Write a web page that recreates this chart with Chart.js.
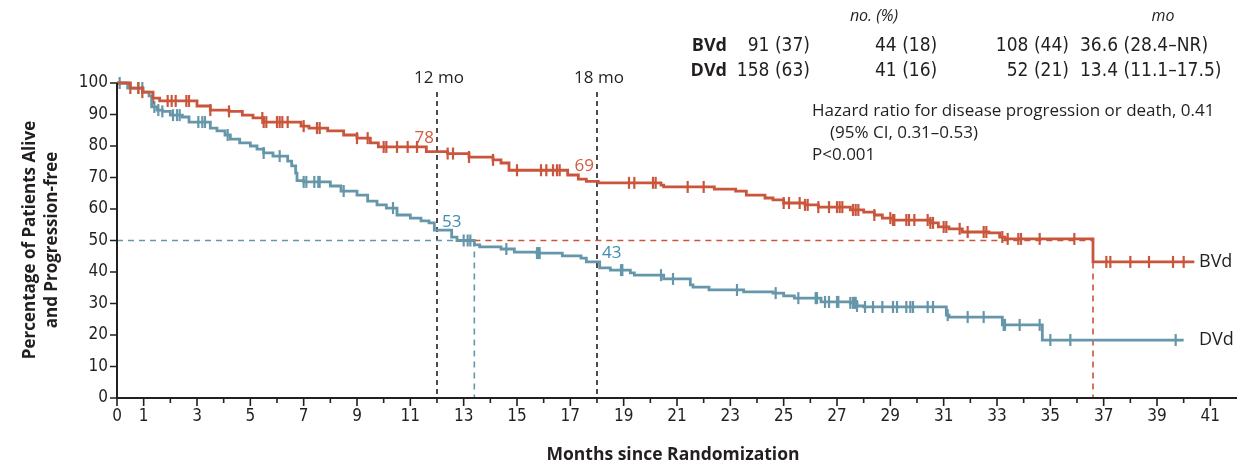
<!DOCTYPE html>
<html>
<head>
<meta charset="utf-8">
<script src="https://cdn.jsdelivr.net/npm/chart.js@4.4.1/dist/chart.umd.min.js"></script>
<style>
    html, body { margin: 0; padding: 0; background: #fff; }
    #wrap { position: relative; width: 1260px; height: 465px; }
</style>
</head>
<body>
<div id="wrap"><canvas id="km" width="1260" height="465"></canvas></div>
<script>
// Kaplan-Meier steps: month where the curve drops, and the new % level
const bvdTimes = [0, 0.5, 0.95, 1.35, 1.6, 3.0, 3.5, 4.2, 4.7, 5.1, 5.5, 6.9, 7.2, 7.9, 8.5, 9.0, 9.5, 9.8, 11.6, 12.4, 13.2, 14.1, 14.4, 14.7, 16.9, 17.3, 17.6, 18.05, 20.4, 20.5, 22.4, 23.2, 23.6, 24.3, 24.6, 25.0, 25.8, 26.3, 27.5, 28.0, 28.4, 28.7, 29.1, 30.5, 30.8, 31.2, 31.7, 32.7, 33.1, 33.3, 36.6, 40.4];
const bvdSurv = [100, 98.4, 97.1, 95.2, 94.3, 92.7, 91.4, 91.0, 89.8, 88.9, 87.6, 86.3, 85.7, 84.8, 83.5, 82.5, 81.0, 79.7, 78.2, 77.6, 76.5, 75.6, 74.6, 72.3, 70.8, 69.5, 68.8, 68.3, 67.6, 67.0, 66.3, 65.7, 64.4, 63.5, 62.9, 61.9, 61.3, 60.6, 59.7, 59.0, 58.1, 57.1, 56.5, 55.6, 54.3, 53.7, 52.7, 52.4, 51.1, 50.5, 43.2, 43.2];
const bvdCensored = [0.5, 0.8, 0.95, 1.35, 1.9, 2.05, 2.2, 2.6, 2.7, 3.5, 4.2, 5.45, 5.5, 5.6, 6.0, 6.1, 6.2, 6.4, 7.0, 7.5, 7.6, 9.0, 9.4, 10.0, 10.1, 10.5, 10.9, 11.25, 12.4, 12.6, 13.2, 14.1, 15.0, 15.9, 16.1, 16.35, 16.5, 16.6, 19.2, 19.4, 20.1, 20.2, 21.4, 22.0, 25.0, 25.2, 25.6, 25.8, 25.9, 26.3, 26.7, 27.0, 27.1, 27.2, 27.6, 27.7, 27.8, 28.4, 29.0, 29.1, 29.15, 29.6, 29.7, 29.9, 30.4, 30.5, 30.6, 31.0, 31.1, 31.6, 31.9, 32.5, 32.6, 33.2, 33.4, 33.8, 33.9, 34.6, 35.9, 37.1, 37.25, 38.0, 38.7, 39.6, 40.0];

const dvdTimes = [0, 0.4, 0.98, 1.2, 1.3, 1.5, 1.7, 2.0, 2.45, 2.7, 3.5, 3.75, 4.05, 4.25, 4.6, 5.0, 5.25, 5.5, 5.85, 6.4, 6.55, 6.7, 6.75, 7.0, 8.0, 8.4, 9.0, 9.4, 9.75, 10.1, 10.5, 11.0, 11.4, 11.7, 11.9, 12.55, 12.75, 13.4, 13.6, 14.4, 14.9, 15.75, 16.7, 17.4, 17.6, 18.1, 18.5, 19.25, 19.4, 20.5, 21.5, 21.6, 22.2, 23.5, 24.6, 25.0, 25.4, 26.4, 27.5, 27.75, 28.0, 31.1, 31.2, 33.2, 34.7, 40.0];
const dvdSurv = [100, 98.4, 97.1, 95.9, 92.4, 91.4, 91.0, 89.8, 89.2, 87.6, 85.7, 84.8, 83.5, 82.2, 81.0, 80.0, 79.0, 77.8, 76.8, 75.2, 73.7, 71.4, 69.0, 68.6, 67.3, 65.7, 64.4, 62.5, 61.3, 60.3, 58.1, 57.1, 56.2, 55.6, 53.3, 51.1, 50.0, 48.6, 48.0, 47.3, 46.3, 46.0, 45.1, 44.4, 43.2, 41.3, 40.6, 39.7, 39.0, 37.8, 35.9, 35.2, 34.3, 33.7, 33.3, 32.4, 31.7, 30.5, 30.2, 29.2, 28.9, 26.3, 25.7, 23.2, 18.4, 18.4];
const dvdCensored = [0.1, 0.8, 0.95, 1.4, 1.55, 1.7, 2.1, 2.25, 2.35, 3.05, 3.2, 3.3, 4.15, 5.5, 6.1, 7.0, 7.1, 7.4, 7.55, 7.6, 8.5, 10.35, 13.0, 13.15, 13.25, 14.6, 15.75, 15.8, 15.85, 18.9, 18.95, 20.4, 20.85, 23.25, 24.7, 25.55, 26.2, 26.25, 26.55, 26.7, 27.0, 27.05, 27.5, 27.6, 27.65, 27.7, 27.75, 28.05, 28.35, 28.7, 29.1, 29.25, 29.6, 29.75, 29.85, 30.4, 30.6, 31.15, 31.9, 32.5, 33.25, 33.3, 33.85, 34.6, 35.0, 35.75, 39.7];

const xTickLabels = [0, 1, 3, 5, 7, 9, 11, 13, 15, 17, 19, 21, 23, 25, 27, 29, 31, 33, 35, 37, 39, 41];
const yTickLabels = [0, 10, 20, 30, 40, 50, 60, 70, 80, 90, 100];

const landmarks = [12, 18];
const bvdLandmarkPct = [78, 69];
const dvdLandmarkPct = [53, 43];
const medians = { DVd: 13.4, BVd: 36.6 };

const tableHead = ['no. (%)', 'mo'];
const tableRows = [
    ['BVd', '91 (37)', '44 (18)', '108 (44)', '36.6 (28.4\u2013NR)'],
    ['DVd', '158 (63)', '41 (16)', '52 (21)', '13.4 (11.1\u201317.5)'],
];
const hazardLines = ['Hazard ratio for disease progression or death, 0.41', '(95% CI, 0.31\u20130.53)', 'P<0.001'];

const RED = '#c9553b';
const BLUE = '#6596a9';
const RED_TEXT = '#d45a40';
const BLUE_TEXT = '#3f8db0';
const INK = '#231f20';
const SANS = "'Open Sans', 'DejaVu Sans', sans-serif";
const NARROW = "'Liberation Sans Narrow', 'DejaVu Sans Condensed', sans-serif";

function steps(times, surv) {
    return times.map((t, i) => ({ x: t, y: surv[i] }));
}

function survAt(times, surv, t) {
    let s = surv[0];
    times.forEach((ti, i) => { if (ti <= t) s = surv[i]; });
    return s;
}

function marks(times, surv, censored) {
    return censored.map((t) => ({ x: t, y: survAt(times, surv, t) }));
}

function text(ctx, str, x, y, font, color, align) {
    ctx.font = font;
    ctx.fillStyle = color;
    ctx.textAlign = align || 'left';
    ctx.textBaseline = 'middle';
    ctx.fillText(str, x, y);
}

function dashed(ctx, color, pattern, x1, y1, x2, y2) {
    ctx.save();
    ctx.strokeStyle = color;
    ctx.lineWidth = 1.6;
    ctx.setLineDash(pattern);
    ctx.beginPath();
    ctx.moveTo(x1, y1);
    ctx.lineTo(x2, y2);
    ctx.stroke();
    ctx.restore();
}

const kmDecor = {
    id: 'kmDecor',
    beforeDatasetsDraw(chart) {
        const { ctx, scales: { x, y } } = chart;
        landmarks.forEach((m) => dashed(ctx, INK, [5, 4], x.getPixelForValue(m), 92, x.getPixelForValue(m), y.bottom));
        const y50 = y.getPixelForValue(50);
        dashed(ctx, BLUE, [6, 5], x.left, y50, x.getPixelForValue(medians.DVd), y50);
        dashed(ctx, BLUE, [6, 5], x.getPixelForValue(medians.DVd), y50, x.getPixelForValue(medians.DVd), y.bottom);
        dashed(ctx, RED, [6, 5], x.getPixelForValue(medians.DVd), y50, x.getPixelForValue(medians.BVd), y50);
        dashed(ctx, RED, [6, 5], x.getPixelForValue(medians.BVd), y50, x.getPixelForValue(medians.BVd), y.bottom);
    },
    afterDraw(chart) {
        const { ctx, scales: { x, y } } = chart;
        ctx.save();

        // axes
        ctx.strokeStyle = INK;
        ctx.lineWidth = 2;
        ctx.beginPath();
        ctx.moveTo(x.left, y.top);
        ctx.lineTo(x.left, y.bottom);
        ctx.lineTo(x.right, y.bottom);
        ctx.stroke();

        ctx.lineWidth = 1.6;
        ctx.beginPath();
        for (let m = 0; m <= 41; m++) {
            const px = x.getPixelForValue(m);
            const len = xTickLabels.includes(m) ? 8 : 5;
            ctx.moveTo(px, y.bottom);
            ctx.lineTo(px, y.bottom + len);
        }
        yTickLabels.forEach((v) => {
            const py = y.getPixelForValue(v);
            ctx.moveTo(x.left, py);
            ctx.lineTo(x.left - 7, py);
        });
        ctx.stroke();

        // axis titles
        text(ctx, 'Months since Randomization', 673, 455, `bold 17.5px ${SANS}`, INK, 'center');
        ctx.save();
        ctx.translate(30, 240);
        ctx.rotate(-Math.PI / 2);
        text(ctx, 'Percentage of Patients Alive', 0, 0, `bold 17px ${SANS}`, INK, 'center');
        text(ctx, 'and Progression-free', 0, 22, `bold 17px ${SANS}`, INK, 'center');
        ctx.restore();

        // landmark labels
        landmarks.forEach((m, i) => {
            const px = x.getPixelForValue(m);
            text(ctx, `${m} mo`, px + 2, 78, `17px ${SANS}`, INK, 'center');
            text(ctx, String(bvdLandmarkPct[i]), px - 3, y.getPixelForValue(bvdLandmarkPct[i]) - 14, `17px ${SANS}`, RED_TEXT, 'right');
            text(ctx, String(dvdLandmarkPct[i]), px + 5, y.getPixelForValue(dvdLandmarkPct[i]) - 9, `17px ${SANS}`, BLUE_TEXT, 'left');
        });

        // curve names
        text(ctx, 'BVd', 1199, y.getPixelForValue(bvdSurv[bvdSurv.length - 1]), `18px ${SANS}`, INK, 'left');
        text(ctx, 'DVd', 1199, y.getPixelForValue(dvdSurv[dvdSurv.length - 1]), `18px ${SANS}`, INK, 'left');

        // hazard ratio block
        text(ctx, hazardLines[0], 812, 111, `17px ${SANS}`, INK, 'left');
        text(ctx, hazardLines[1], 830, 133, `17px ${SANS}`, INK, 'left');
        text(ctx, hazardLines[2], 812, 155, `17px ${SANS}`, INK, 'left');

        // table at top
        text(ctx, tableHead[0], 874, 16, `italic 16px ${SANS}`, INK, 'center');
        text(ctx, tableHead[1], 1163, 16, `italic 16px ${SANS}`, INK, 'center');
        tableRows.forEach((row, i) => {
            const ty = 46 + i * 25;
            text(ctx, row[0], 727, ty, `bold 18px ${SANS}`, INK, 'right');
            text(ctx, row[1], 810, ty, `19px ${NARROW}`, INK, 'right');
            text(ctx, row[2], 875, ty, `19px ${NARROW}`, INK, 'left');
            text(ctx, row[3], 1069, ty, `19px ${NARROW}`, INK, 'right');
            text(ctx, row[4], 1080, ty, `19px ${NARROW}`, INK, 'left');
        });

        ctx.restore();
    },
};

new Chart(document.getElementById('km'), {
    type: 'line',
    data: {
        datasets: [
            { label: 'BVd', data: steps(bvdTimes, bvdSurv), borderColor: RED, borderWidth: 2.8, stepped: true, pointRadius: 0, clip: false },
            { label: 'DVd', data: steps(dvdTimes, dvdSurv), borderColor: BLUE, borderWidth: 2.8, stepped: true, pointRadius: 0, clip: false },
            { label: 'BVd censored', data: marks(bvdTimes, bvdSurv, bvdCensored), showLine: false, pointStyle: 'line', pointRotation: 90, pointRadius: 6, pointBorderWidth: 2.2, pointBorderColor: RED, clip: false },
            { label: 'DVd censored', data: marks(dvdTimes, dvdSurv, dvdCensored), showLine: false, pointStyle: 'line', pointRotation: 90, pointRadius: 6, pointBorderWidth: 2.2, pointBorderColor: BLUE, clip: false },
        ],
    },
    options: {
        responsive: false,
        animation: false,
        layout: { padding: { left: 0, right: 23, top: 83, bottom: 0 } },
        plugins: { legend: { display: false }, tooltip: { enabled: false } },
        scales: {
            x: {
                type: 'linear',
                min: 0,
                max: 42,
                afterFit: (s) => { s.height = 67; },
                grid: { display: false, drawTicks: false },
                border: { display: false },
                ticks: {
                    stepSize: 1,
                    autoSkip: false,
                    maxRotation: 0,
                    padding: 8,
                    color: INK,
                    font: { family: NARROW, size: 17 },
                    callback: (v) => (xTickLabels.includes(v) ? String(v) : ''),
                },
            },
            y: {
                min: 0,
                max: 100,
                afterFit: (s) => { s.width = 117; },
                grid: { display: false, drawTicks: false },
                border: { display: false },
                ticks: {
                    stepSize: 10,
                    padding: 9,
                    color: INK,
                    font: { family: NARROW, size: 17 },
                    callback: (v) => (yTickLabels.includes(v) ? String(v) : ''),
                },
            },
        },
    },
    plugins: [kmDecor],
});
</script>
</body>
</html>
